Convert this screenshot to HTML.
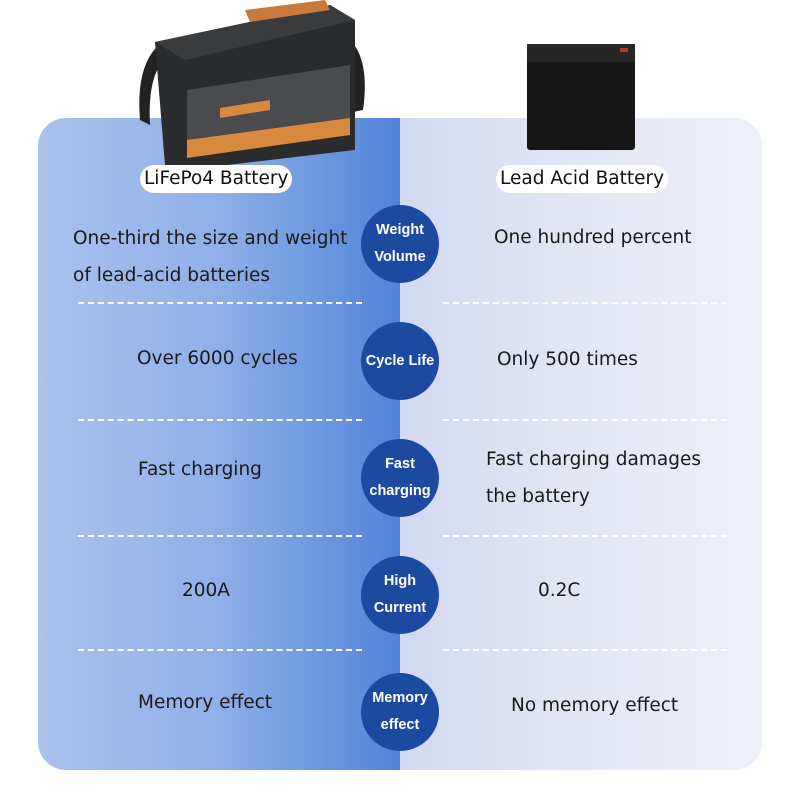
<!DOCTYPE html>
<html><head><meta charset="utf-8"><style>
body{margin:0;width:800px;height:800px;background:#fff;position:relative;overflow:hidden;font-family:"DejaVu Sans","Liberation Sans",sans-serif}
.lp{position:absolute;left:38px;top:118px;width:362px;height:652px;border-radius:28px 0 0 28px;background:linear-gradient(90deg,#aac2ec 0%,#8eb0e8 50%,#5283d8 100%)}
.rp{position:absolute;left:400px;top:118px;width:362px;height:652px;border-radius:0 28px 28px 0;background:linear-gradient(90deg,#d2d9f0 0%,#e6e9f6 60%,#eef0f8 100%)}
.t{position:absolute;font-size:18.5px;color:#1a1a1a;line-height:37px;white-space:nowrap}
.c{position:absolute;left:361px;width:78px;height:78px;border-radius:50%;background:#1c4aa0;color:#fff;font-weight:bold;font-size:14.5px;display:flex;align-items:center;justify-content:center;text-align:center;line-height:27px;font-family:"Liberation Sans",sans-serif}
.d{position:absolute;height:0;border-top:2px dashed #fff}
.lab{position:absolute;top:165px;height:28px;background:#fff;border-radius:14px;font-size:18.5px;line-height:28px;padding:0 4px;color:#111;white-space:nowrap}
</style></head><body>
<div class="lp"></div><div class="rp"></div>
<svg style="position:absolute;left:125px;top:0" width="250" height="175">
<path d="M40 40 Q10 60 15 120 L25 125 Q22 70 45 55Z" fill="#222"/>
<path d="M225 40 Q245 60 238 110 L228 112 Q232 70 218 55Z" fill="#222"/>
<polygon points="30,42 205,5 230,20 230,150 60,170 40,165" fill="#2a2b2d"/>
<polygon points="30,42 205,5 230,20 60,60" fill="#3a3b3d"/>
<polygon points="62,90 225,65 225,130 62,150" fill="#4a4b4e"/>
<polygon points="62,140 225,118 225,135 62,158" fill="#d9893e"/>
<polygon points="95,108 145,100 145,110 95,118" fill="#d9893e"/>
<polygon points="120,10 200,0 205,10 125,22" fill="#c97a3a"/>
</svg>
<svg style="position:absolute;left:525px;top:40" width="115" height="115">
<rect x="2" y="8" width="108" height="102" rx="3" fill="#161616"/>
<rect x="2" y="4" width="108" height="18" fill="#262626"/>
<rect x="95" y="8" width="8" height="4" fill="#a33"/>
</svg>
<div class="lab" style="left:140px">LiFePo4 Battery</div>
<div class="lab" style="left:496px">Lead Acid Battery</div>

<div class="t" style="left:73px;top:220px">One-third the size and weight<br>of lead-acid batteries</div>
<div class="t" style="left:494px;top:219px">One hundred percent</div>
<div class="t" style="left:137px;top:340px">Over 6000 cycles</div>
<div class="t" style="left:497px;top:341px">Only 500 times</div>
<div class="t" style="left:138px;top:451px">Fast charging</div>
<div class="t" style="left:486px;top:441px">Fast charging damages<br>the battery</div>
<div class="t" style="left:182px;top:572px">200A</div>
<div class="t" style="left:538px;top:572px">0.2C</div>
<div class="t" style="left:138px;top:684px">Memory effect</div>
<div class="t" style="left:511px;top:687px">No memory effect</div>

<div class="c" style="top:205px">Weight<br>Volume</div>
<div class="c" style="top:322px">Cycle Life</div>
<div class="c" style="top:439px">Fast<br>charging</div>
<div class="c" style="top:556px">High<br>Current</div>
<div class="c" style="top:673px">Memory<br>effect</div>

<div class="d" style="left:78px;width:284px;top:302px"></div>
<div class="d" style="left:443px;width:284px;top:302px"></div>
<div class="d" style="left:78px;width:284px;top:419px"></div>
<div class="d" style="left:443px;width:284px;top:419px"></div>
<div class="d" style="left:78px;width:284px;top:535px"></div>
<div class="d" style="left:443px;width:284px;top:535px"></div>
<div class="d" style="left:78px;width:284px;top:649px"></div>
<div class="d" style="left:443px;width:284px;top:649px"></div>
</body></html>
